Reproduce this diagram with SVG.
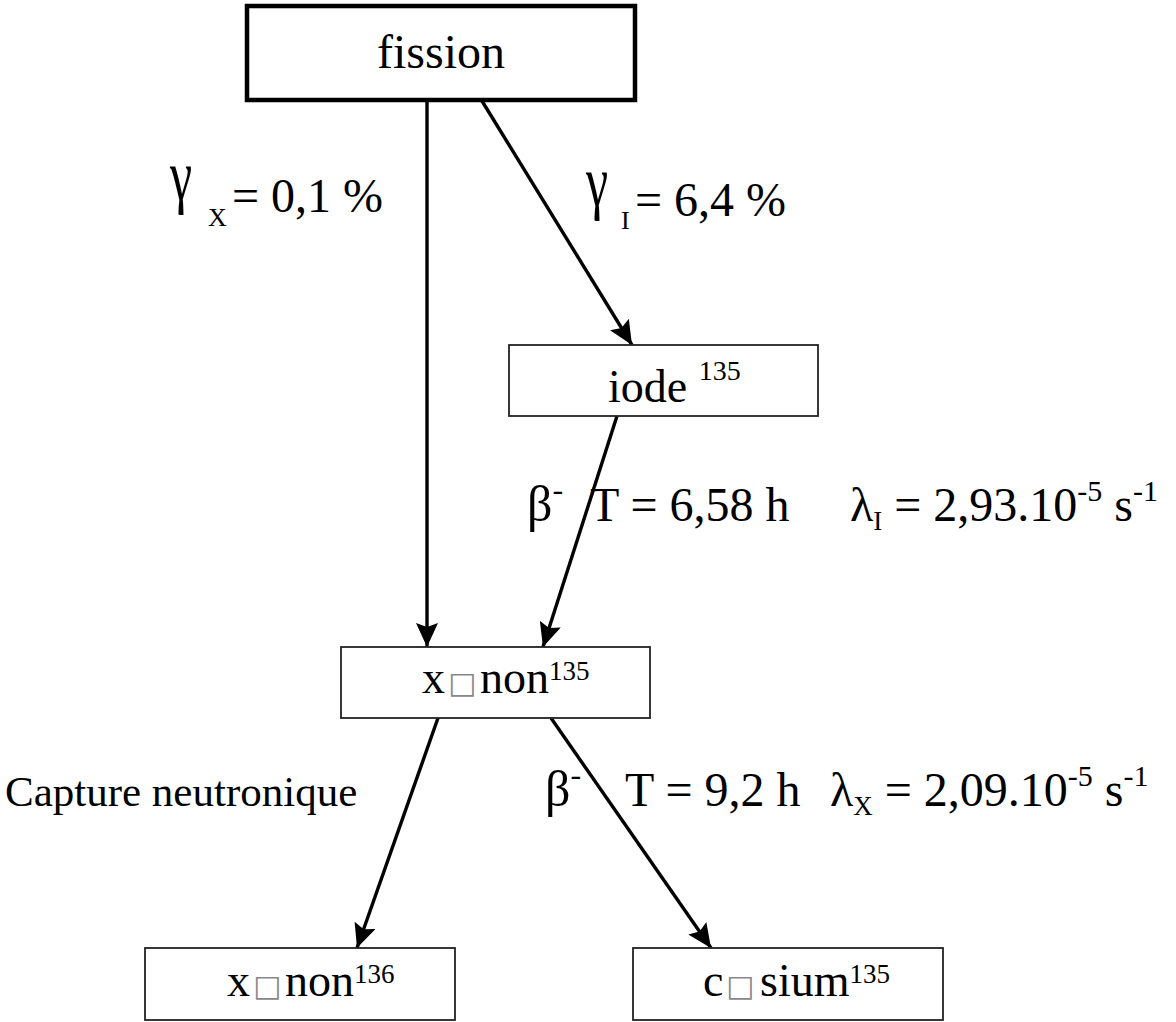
<svg xmlns="http://www.w3.org/2000/svg" width="1176" height="1022" viewBox="0 0 1176 1022">
<defs>
<style>
.box{fill:#fff;stroke:#222;stroke-width:1.8}
.big{fill:#fff;stroke:#000;stroke-width:4.5}
.arrow{stroke:#000;stroke-width:3.4;fill:none;marker-end:url(#ah)}
</style>
<marker id="ah" markerUnits="userSpaceOnUse" markerWidth="26" markerHeight="22" refX="24" refY="11" orient="auto" viewBox="0 0 26 22">
<path d="M0,0 L24,11 L0,22 L4,11 z" fill="#000"/>
</marker>
</defs>
<rect width="1176" height="1022" fill="#fff"/>
<g id="connectors">
<line class="arrow" x1="427" y1="101" x2="427" y2="647"/>
<line class="arrow" x1="482" y1="101" x2="632" y2="345"/>
<line class="arrow" x1="617" y1="416" x2="543" y2="647"/>
<line class="arrow" x1="438" y1="718" x2="357" y2="948"/>
<line class="arrow" x1="551" y1="718" x2="711" y2="948"/>
</g>
<g font-family="Liberation Serif, Times New Roman, DejaVu Serif, serif" fill="#000">
<g id="fission">
<rect class="big" x="247" y="6" width="388" height="94"/>
<text x="441" y="68" font-size="48" text-anchor="middle">fission</text>
</g>
<g id="iode">
<rect class="box" x="509" y="345" width="309" height="71"/>
<text font-size="46" x="608" y="402">iode <tspan font-size="28" dy="-22">135</tspan></text>
</g>
<g id="xenon135">
<rect class="box" x="341" y="647" width="309" height="71"/>
<text font-size="46" x="422" y="693">x<tspan font-family="DejaVu Sans, sans-serif" font-size="30" fill="#888" x="448">□</tspan><tspan x="480">non</tspan><tspan font-size="27" dy="-13">135</tspan></text>
</g>
<g id="xenon136">
<rect class="box" x="145" y="948" width="310" height="72"/>
<text font-size="46" x="227" y="996">x<tspan font-family="DejaVu Sans, sans-serif" font-size="30" fill="#888" x="253">□</tspan><tspan x="285">non</tspan><tspan font-size="27" dy="-13">136</tspan></text>
</g>
<g id="cesium">
<rect class="box" x="633" y="948" width="310" height="72"/>
<text font-size="46" x="703" y="996">c<tspan font-family="DejaVu Sans, sans-serif" font-size="30" fill="#888" x="726">□</tspan><tspan x="760">sium</tspan><tspan font-size="27" dy="-13">135</tspan></text>
</g>
<g id="labels">
<text font-size="50" transform="translate(170,200) scale(1,1.45)">γ</text>
<text font-size="26" x="208" y="226">X</text>
<text font-size="48" x="232" y="212">= 0,1 %</text>
<text font-size="50" transform="translate(586,206) scale(1,1.45)">γ</text>
<text font-size="26" x="621" y="229">I</text>
<text font-size="48" x="635" y="216">= 6,4 %</text>
<text font-size="50" x="527" y="521">β<tspan font-size="32" dy="-21">-</tspan></text>
<text font-size="48" x="590" y="521">T = 6,58 h</text>
<text font-size="48" x="850" y="521">λ<tspan font-size="27" dy="9">I</tspan><tspan dy="-9"> = 2,93.10</tspan><tspan font-size="30" dy="-20">-5</tspan><tspan dy="20"> s</tspan><tspan font-size="30" dy="-20">-1</tspan></text>
<text font-size="43" x="5" y="806">Capture neutronique</text>
<text font-size="50" x="545" y="806">β<tspan font-size="32" dy="-21">-</tspan></text>
<text font-size="48" x="625" y="806">T = 9,2 h</text>
<text font-size="48" x="830" y="806">λ<tspan font-size="27" dy="9">X</tspan><tspan dy="-9"> = 2,09.10</tspan><tspan font-size="30" dy="-20">-5</tspan><tspan dy="20"> s</tspan><tspan font-size="30" dy="-20">-1</tspan></text>
</g>
</g>
</svg>
